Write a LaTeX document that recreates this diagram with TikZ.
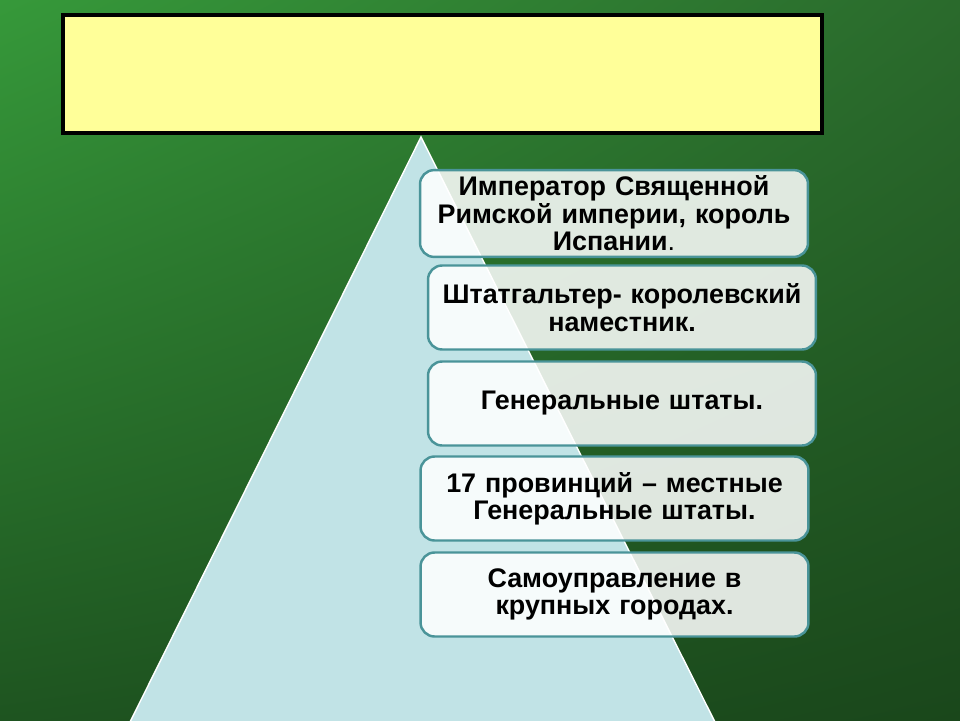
\documentclass[tikz,border=0pt]{standalone}
\usepackage{fontspec}
\setmainfont{Liberation Sans}
\usetikzlibrary{positioning,shadings}

\definecolor{bgtl}{HTML}{36993A}
\definecolor{bgtr}{HTML}{2A6A2C}
\definecolor{bgbl}{HTML}{1E5420}
\definecolor{bgbr}{HTML}{1A471B}
\definecolor{titlefill}{HTML}{FFFF99}
\definecolor{pyramid}{HTML}{C1E3E6}
\definecolor{boxline}{HTML}{4A9499}

\tikzset{
	levelbox/.style={draw=boxline, line width=1.4pt, rounded corners=8pt,
		fill=white, fill opacity=0.86, text opacity=1,
		minimum width=7.76cm, minimum height=1.68cm, text width=7.36cm,
		align=center, font=\fontsize{15.3}{15.6}\selectfont\bfseries}
}

\begin{document}
\begin{tikzpicture}[x=0.02cm,y=-0.02cm]
		% background
		\shade[upper left=bgtl, upper right=bgtr, lower left=bgbl, lower right=bgbr] (0,0) rectangle (960,720);
		\useasboundingbox (0,0) rectangle (960,720);
		% title box
		\node[draw=black, line width=1.8pt, fill=titlefill, minimum width=15.18cm, minimum height=2.36cm] (title) at (442.5,74) {};
		% pyramid
		\coordinate (top) at (421,137);
		\coordinate (baseL) at (130,722);
		\coordinate (baseR) at (715,722);
		\fill[pyramid, draw=white, line width=0.8pt] (top) -- (baseR) -- (baseL) -- cycle;
		% levels
		\node[levelbox] (emperor) at (614,213.5) {Император Священной\\ Римской империи, король\\ Испании\textmd{.}};
		\node[levelbox] (stadholder) at (622,307.5) {Штатгальтер- королевский\\ наместник.};
		\node[levelbox] (states) at (622,403.5) {Генеральные штаты.};
		\node[levelbox] (provinces) at (614.5,498.5) {17 провинций -- местные\\ Генеральные штаты.};
		\node[levelbox] (cities) at (614.5,594.5) {Самоуправление в\\ крупных городах.};
\end{tikzpicture}
\end{document}
